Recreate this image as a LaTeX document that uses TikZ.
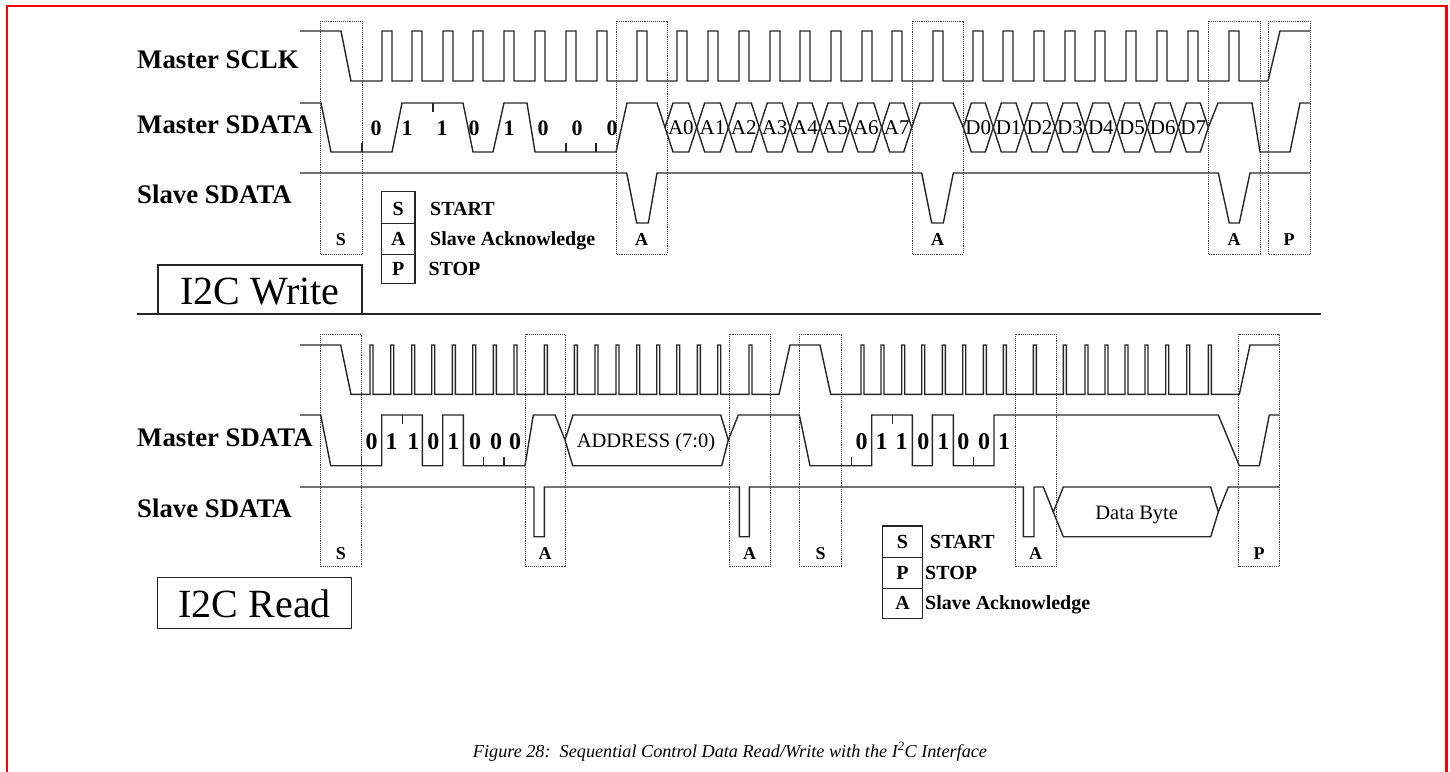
\documentclass[tikz,border=0pt]{standalone}
\usepackage{fontspec}
\setmainfont{Liberation Serif}
\usepackage{graphicx}
\begin{document}
\begin{tikzpicture}[x=1pt,y=-1pt,
  wave/.style={line width=1.4pt, black!85, line join=miter},
  tickmark/.style={line width=1.2pt, black!85},
  dotbox/.style={densely dotted, line width=0.9pt, black!75},
  siglbl/.style={anchor=base west, inner sep=0pt, font=\fontsize{26.8}{30}\selectfont\bfseries},
  boxlbl/.style={anchor=base, inner sep=0pt, font=\fontsize{18}{20}\selectfont\bfseries},
  bitlbl/.style={inner sep=0pt, font=\fontsize{22}{24}\selectfont\bfseries},
  bitlblb/.style={inner sep=0pt, font=\fontsize{24}{26}\selectfont\bfseries},
  hexlbl/.style={inner sep=0pt, font=\fontsize{21}{23}\selectfont},
  buslbl/.style={anchor=base, inner sep=0pt, font=\fontsize{20.5}{22}\selectfont},
  legtxt/.style={anchor=base west, inner sep=0pt, font=\fontsize{20}{22}\selectfont\bfseries},
  legkey/.style={anchor=base, inner sep=0pt, font=\fontsize{20}{22}\selectfont\bfseries},
  titletxt/.style={anchor=base, inner sep=0pt, font=\fontsize{40}{44}\selectfont},
  legline/.style={line width=1.1pt, black!85}
]
\useasboundingbox (0,0) rectangle (1450,771);
% red frame
\draw[red, line width=2.6pt] (7,780) -- (7,6) -- (1446.5,6) -- (1446.5,780);

% ================= I2C WRITE =================
\node[siglbl] (wsclk) at (137,68) {Master SCLK};
\node[siglbl] (wmsda) at (137,133) {Master SDATA};
\node[siglbl] (wssda) at (137,203) {Slave SDATA};

% SCLK
\draw[wave] (300,31) -- (341,31) -- (351,81)
  foreach \x in {382,412,443,473,504,535,566,597,637,677,708,739,770,800,831,862,892,933,973,1003,1034,1065,1095,1126,1157,1188,1229}
  { -- (\x,81) -- (\x,31) -- ({\x+10},31) -- ({\x+10},81) }
  -- (1268,81) -- (1280,31) -- (1310,31);

% Master SDATA
\draw[wave] (300,103) -- (321,103) -- (331,152) -- (392,152) -- (402,103) -- (463,103)
  -- (473,152) -- (493,152) -- (504,103) -- (527,103) -- (535,152) -- (616,152)
  -- (627,103) -- (657,103) -- (665,127.5);
\draw[tickmark] (362,152) -- (362,143);
\draw[tickmark] (433,103) -- (433,112);
\draw[tickmark] (566,152) -- (566,143);
\draw[tickmark] (596,152) -- (596,143);
\foreach \x/\t [count=\i] in {376/0,407/1,442/1,474/0,509/1,543/0,577/0,612/0}
  \node[bitlbl] (wb\i) at (\x,128) {\t};
\foreach \a/\b/\t [count=\i] in {665/696.7/A0,696.7/728.3/A1,728.3/759.3/A2,759.3/790/A3,790/820/A4,820/850/A5,850/881.7/A6,881.7/911.7/A7,963.3/993.3/D0,993.3/1024/D1,1024/1055/D2,1055/1085/D3,1085/1116.7/D4,1116.7/1147.3/D5,1147.3/1178.3/D6,1178.3/1208.3/D7}
{
  \draw[wave] (\a,127.5) -- ({\a+8},103) -- ({\b-8},103) -- (\b,127.5) -- ({\b-8},152) -- ({\a+8},152) -- cycle;
  \node[hexlbl] (wh\i) at ({(\a+\b)/2},128) {\t};
}
\draw[wave] (911.7,127.5) -- (920,103) -- (953,103) -- (963.3,127.5);
\draw[wave] (1208.3,127.5) -- (1218,103) -- (1252,103) -- (1260,152) -- (1290,152) -- (1300,103) -- (1310,103);

% Slave SDATA
\draw[wave] (300,173) -- (626.7,173) -- (636.7,223) -- (648.3,223) -- (657,173)
  -- (921.7,173) -- (931.7,223) -- (943.3,223) -- (953.3,173)
  -- (1218.3,173) -- (1229.3,223) -- (1239.3,223) -- (1250,173) -- (1310,173);

% dotted boxes
\foreach \l/\r/\t [count=\i] in {320/362/S,616/667/A,912/963/A,1208/1260/A,1268/1310/P}
{
  \draw[dotbox] (\l,21) rectangle (\r,254);
  \node[boxlbl] (wbox\i) at ({(\l+\r)/2},245) {\t};
}

% legend
\draw[legline] (381.7,191.7) rectangle (415,283.3);
\draw[legline] (381.7,223.3) -- (415,223.3);
\draw[legline] (381.7,254.3) -- (415,254.3);
\node[legkey] (wk1) at (398.3,215) {S};
\node[legkey] (wk2) at (398.3,245.6) {A};
\node[legkey] (wk3) at (398.3,275.5) {P};
\node[legtxt] (wt1) at (430,215) {START};
\node[legtxt] (wt2) at (430,245.6) {Slave Acknowledge};
\node[legtxt] (wt3) at (428.3,275.5) {STOP};

% title box
\draw[legline] (158,313.5) -- (158,265) -- (362,265) -- (362,313.5);
\node[titletxt] (wtitle) at (260,304) {I2C Write};

% divider
\draw[line width=1.5pt, black!85] (137,314) -- (1321,314);

% ================= I2C READ =================
\node[siglbl] (rmsda) at (137,446.7) {Master SDATA};
\node[siglbl] (rssda) at (137,517.3) {Slave SDATA};

% SCLK
\draw[wave] (300,345) -- (340.7,345) -- (351,394.3)
  foreach \x in {370,390.7,411.7,431.7,452.3,472.7,493.3,514,544.3,574.3,595,616,636.7,656.7,676.7,697.3,717.7,749}
  { -- (\x,394.3) -- (\x,345) -- ({\x+3},345) -- ({\x+3},394.3) }
  -- (779,394.3) -- (790,345) -- (820,345) -- (830.7,394.3)
  foreach \x in {861,881,901.7,921.7,942.3,962.7,983.3,1003.3,1033.3,1063.3,1085,1105,1125,1145,1165.7,1186.7,1208.3}
  { -- (\x,394.3) -- (\x,345) -- ({\x+3},345) -- ({\x+3},394.3) }
  -- (1239.3,394.3) -- (1250,345) -- (1279.3,345);

% Master SDATA
\draw[wave] (300,415) -- (320.7,415) -- (330.7,465.7) -- (381.7,465.7) -- (381.7,415)
  -- (422.3,415) -- (422.3,465.7) -- (442.7,465.7) -- (442.7,415) -- (463.3,415)
  -- (463.3,465.7) -- (525,465.7) -- (533.3,415) -- (555,415) -- (565,440);
\draw[wave] (565,440) -- (573,415) -- (720.7,415) -- (728.3,440) -- (721.7,465.7) -- (572.7,465.7) -- cycle;
\draw[wave] (728.3,440) -- (738.3,415) -- (799.3,415) -- (810,465.7) -- (871.7,465.7)
  -- (871.7,415) -- (912.3,415) -- (912.3,465.7) -- (932.3,465.7) -- (932.3,415)
  -- (953.3,415) -- (953.3,465.7) -- (994,465.7) -- (994,415) -- (1218.3,415)
  -- (1239.3,465.7) -- (1259.3,465.7) -- (1269.3,415) -- (1279.3,415);
\draw[tickmark] (361.7,465.7) -- (361.7,457);
\draw[tickmark] (402.7,415) -- (402.7,424);
\draw[tickmark] (483.3,465.7) -- (483.3,457);
\draw[tickmark] (504,465.7) -- (504,457);
\draw[tickmark] (851.7,465.7) -- (851.7,457);
\draw[tickmark] (892.3,415) -- (892.3,424);
\draw[tickmark] (973.3,465.7) -- (973.3,457);
\foreach \x/\t [count=\i] in {371.7/0,391.7/1,413.3/1,433.3/0,453.3/1,475/0,496/0,515/0,861.7/0,881.7/1,901.7/1,923.3/0,943.3/1,963.3/0,984/0,1004/1}
  \node[bitlblb] (rb\i) at (\x,441.7) {\t};
\node[buslbl] (raddr) at (646,447) {ADDRESS (7:0)};

% Slave SDATA
\draw[wave] (300,487) -- (534,487) -- (534,536.7) -- (544.3,536.7) -- (544.3,487)
  -- (739.3,487) -- (739.3,536.7) -- (749.3,536.7) -- (749.3,487)
  -- (1023.3,487) -- (1023.3,536.7) -- (1034,536.7) -- (1034,487) -- (1043.3,487) -- (1053.3,512);
\draw[wave] (1053.3,512) -- (1063.3,487) -- (1210.7,487) -- (1218.3,512) -- (1210.7,536.7) -- (1063.3,536.7) -- cycle;
\draw[wave] (1218.3,512) -- (1228.3,487) -- (1279.3,487);
\node[buslbl] (rdata) at (1136.7,519) {Data Byte};

% dotted boxes
\foreach \l/\r/\t [count=\i] in {320/361.7/S,525/565/A,729/770/A,799.3/841.7/S,1015/1056/A,1238.7/1279.3/P}
{
  \draw[dotbox] (\l,334.3) rectangle (\r,566.7);
  \node[boxlbl] (rbox\i) at ({(\l+\r)/2},559.3) {\t};
}

% legend
\draw[legline] (882.7,526) rectangle (922.3,618.3);
\draw[legline] (882.7,557.3) -- (922.3,557.3);
\draw[legline] (882.7,588.3) -- (922.3,588.3);
\node[legkey] (rk1) at (902.5,548.3) {S};
\node[legkey] (rk2) at (902.5,579) {P};
\node[legkey] (rk3) at (902.5,609.5) {A};
\node[legtxt] (rt1) at (930,548.3) {START};
\node[legtxt] (rt2) at (925,579) {STOP};
\node[legtxt] (rt3) at (925,609.5) {Slave Acknowledge};

% title box
\draw[legline] (157.7,577.7) rectangle (351.7,628.3);
\node[titletxt] (rtitle) at (254.7,617.3) {I2C Read};

% caption
\node[anchor=base, inner sep=0pt, font=\fontsize{18.2}{20}\selectfont\itshape] (caption) at (730,757)
  {Figure 28:\ \ Sequential Control Data Read/Write with the I\textsuperscript{2}C Interface};
\end{tikzpicture}
\end{document}
